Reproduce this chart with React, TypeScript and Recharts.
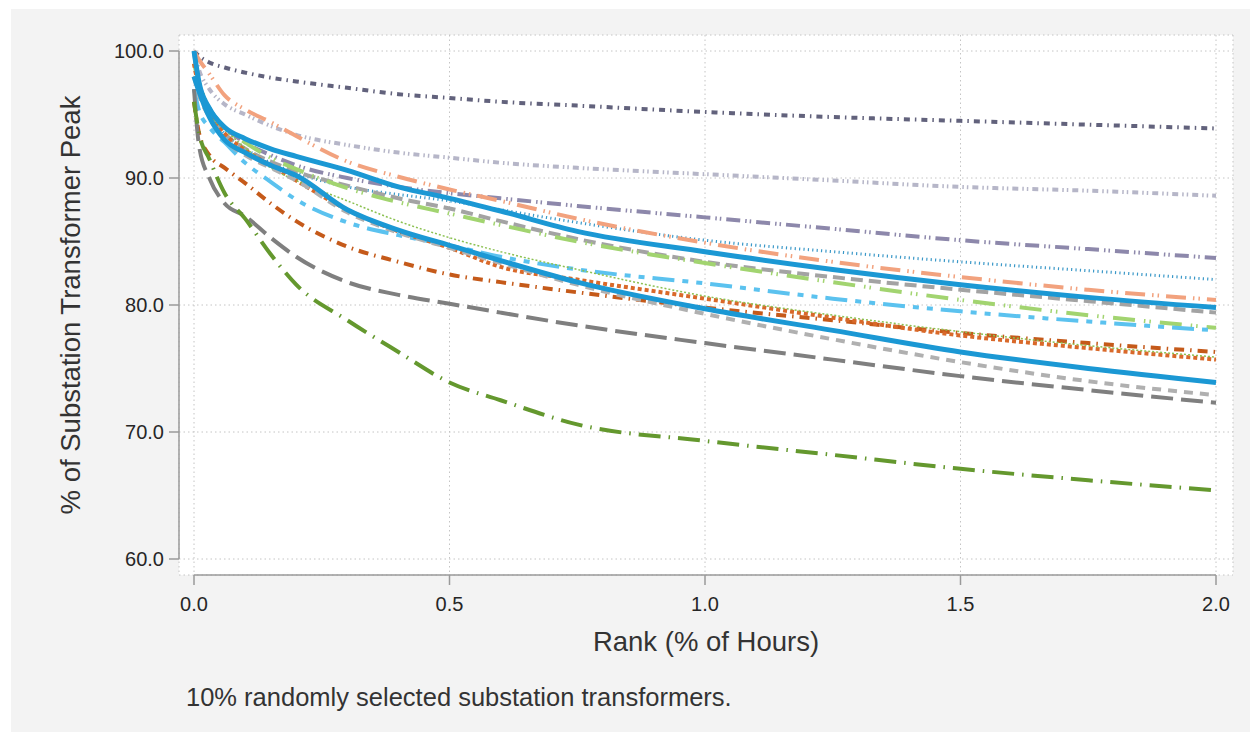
import { LineChart, Line, XAxis, YAxis, CartesianGrid } from "recharts";

// rank, % of hours
const rank = [0, 0.01, 0.03, 0.06, 0.1, 0.15, 0.2, 0.3, 0.4, 0.5, 0.6, 0.75, 1.0, 1.25, 1.5, 1.75, 2.0];

// % of substation transformer peak, one array per transformer
const slate = [100, 99.6, 99.1, 98.7, 98.3, 97.9, 97.6, 97.1, 96.6, 96.3, 96.0, 95.7, 95.2, 94.8, 94.5, 94.2, 93.9];
const lavender = [100, 98.5, 97.0, 95.8, 95.0, 94.1, 93.4, 92.6, 92.0, 91.6, 91.2, 90.8, 90.3, 89.8, 89.3, 89.0, 88.6];
const purple = [100, 97.5, 95.5, 94.0, 92.8, 91.8, 91.0, 90.0, 89.3, 88.8, 88.4, 87.8, 86.9, 86.0, 85.1, 84.4, 83.7];
const thinBlue = [100, 97.0, 95.0, 93.5, 92.3, 91.2, 90.4, 89.3, 88.7, 88.2, 87.5, 86.5, 85.1, 84.2, 83.4, 82.7, 82.0];
const salmon = [100, 99.3, 98.2, 96.5, 95.4, 94.4, 93.3, 91.3, 90.1, 89.1, 88.2, 86.8, 84.9, 83.4, 82.2, 81.2, 80.4];
const blueUpper = [100, 97.5, 95.5, 94.0, 93.1, 92.3, 91.7, 90.6, 89.3, 88.4, 87.4, 85.8, 84.2, 82.8, 81.6, 80.6, 79.8];
const grayUpper = [100, 97.0, 95.0, 93.5, 92.3, 91.3, 90.5, 89.4, 88.4, 87.6, 86.6, 85.2, 83.4, 82.2, 81.2, 80.3, 79.4];
const lightGreen = [99, 97.5, 95.5, 94.0, 92.8, 91.6, 90.7, 89.2, 88.1, 87.2, 86.3, 85.0, 83.3, 81.8, 80.4, 79.2, 78.2];
const lightBlue = [97, 95.3, 94.0, 92.8, 91.2, 89.7, 88.3, 86.5, 85.5, 84.7, 83.8, 82.8, 81.7, 80.5, 79.5, 78.7, 78.0];
const brown = [96, 93.5, 91.8, 90.8, 89.6, 88.0, 86.6, 84.6, 83.4, 82.4, 81.8, 81.0, 79.8, 78.8, 77.8, 77.0, 76.3];
const orangeDot = [99, 97.0, 95.2, 93.5, 92.2, 91.0, 89.8, 87.5, 85.8, 84.5, 83.0, 82.0, 80.5, 79.0, 77.6, 76.6, 75.7];
const greenThin = [98, 96.5, 95.0, 93.8, 92.4, 90.8, 89.8, 88.2, 86.6, 85.3, 84.2, 82.8, 80.7, 79.2, 77.9, 76.8, 75.9];
const grayLower = [98, 96.5, 94.8, 93.0, 91.8, 90.8, 89.8, 87.3, 85.7, 84.5, 83.3, 81.6, 79.3, 77.3, 75.5, 74.0, 72.9];
const blueLower = [98, 96.8, 94.8, 93.0, 92.0, 91.0, 90.2, 87.5, 85.9, 84.7, 83.5, 81.8, 79.7, 78.0, 76.3, 75.0, 73.9];
const darkGray = [97, 92.5, 90.0, 88.0, 87.0, 85.3, 83.8, 81.8, 80.8, 80.1, 79.4, 78.4, 77.0, 75.7, 74.4, 73.3, 72.3];
const darkGreen = [96, 93.5, 91.5, 88.8, 86.8, 84.0, 81.6, 78.8, 76.3, 73.9, 72.5, 70.6, 69.3, 68.2, 67.1, 66.2, 65.4];

const xTicks = [0, 0.5, 1, 1.5, 2];
const yTicks = [60, 70, 80, 90, 100];

// drawn in this order, the two solid blue lines last
const series = [
  { key: "slate", values: slate, color: "#62627c", width: 4, dash: "6 5 1.5 5" },
  { key: "lavender", values: lavender, color: "#b6b6c8", width: 4, dash: "6 4 1.5 3 1.5 4" },
  { key: "purple", values: purple, color: "#8d88ab", width: 4, dash: "14 5 1.5 3 1.5 5" },
  { key: "thinBlue", values: thinBlue, color: "#3a98c8", width: 3, dash: "1.2 3.2" },
  { key: "salmon", values: salmon, color: "#f2a27e", width: 4, dash: "20 7 1.5 4 1.5 7" },
  { key: "grayUpper", values: grayUpper, color: "#a3a3a3", width: 4, dash: "12 6" },
  { key: "lightGreen", values: lightGreen, color: "#a2d470", width: 4, dash: "22 9 1.5 4 1.5 9" },
  { key: "lightBlue", values: lightBlue, color: "#5bc2ef", width: 4, dash: "22 8 6 8 6 8" },
  { key: "brown", values: brown, color: "#c55a1a", width: 4, dash: "10 6 1.5 6" },
  { key: "orangeDot", values: orangeDot, color: "#d9692a", width: 4, dash: "4 3" },
  { key: "greenThin", values: greenThin, color: "#8cc152", width: 1.5, dash: "2 2" },
  { key: "grayLower", values: grayLower, color: "#b0b0b0", width: 4, dash: "9 7" },
  { key: "darkGray", values: darkGray, color: "#7f7f7f", width: 4, dash: "22 8" },
  { key: "darkGreen", values: darkGreen, color: "#64982e", width: 4, dash: "22 8 1.5 8" },
  { key: "blueUpper", values: blueUpper, color: "#1b98d4", width: 5, dash: undefined },
  { key: "blueLower", values: blueLower, color: "#1b98d4", width: 5, dash: undefined },
];

const data = rank.map((r, i) => {
  const row: Record<string, number> = { rank: r };
  series.forEach((s) => {
    row[s.key] = s.values[i];
  });
  return row;
});

const font = '"Liberation Sans", Arial, sans-serif';

export default function App() {
  return (
    <div
      style={{
        position: "absolute",
        left: 0,
        top: 0,
        width: 1254,
        height: 732,
        background: "#ffffff",
        fontFamily: font,
        overflow: "hidden",
      }}
    >
      <div
        style={{
          position: "absolute",
          left: 11,
          top: 9,
          width: 1239,
          height: 723,
          background: "#f3f3f3",
        }}
      />
      <div style={{ position: "absolute", left: 0, top: 0 }}>
        <LineChart
          width={1254}
          height={732}
          data={data}
          margin={{ top: 35, right: 21, left: 0, bottom: 117 }}
        >
          <CartesianGrid
            fill="#ffffff"
            stroke="#c4c4c4"
            strokeDasharray="1.5 3"
          />
          <XAxis
            dataKey="rank"
            type="number"
            domain={[0, 2]}
            ticks={xTicks}
            padding={{ left: 15, right: 17 }}
            height={40}
            tickSize={10}
            tickMargin={12}
            tickFormatter={(v: number) => v.toFixed(1)}
            axisLine={{ stroke: "#9a9a9a", strokeWidth: 1.5, strokeDasharray: "0 15 1022 100" }}
            tickLine={{ stroke: "#9a9a9a", strokeWidth: 1.5 }}
            tick={{ fill: "#262626", fontSize: 20, fontFamily: font }}
          />
          <YAxis
            type="number"
            domain={[60, 100]}
            ticks={yTicks}
            padding={{ top: 16, bottom: 16 }}
            width={179}
            tickSize={10}
            tickMargin={5}
            tickFormatter={(v: number) => v.toFixed(1)}
            axisLine={{ stroke: "#9a9a9a", strokeWidth: 1.5, strokeDasharray: "0 16 508 100" }}
            tickLine={{ stroke: "#9a9a9a", strokeWidth: 1.5 }}
            tick={{ fill: "#262626", fontSize: 20, fontFamily: font }}
          />
          {series.map((s) => (
            <Line
              key={s.key}
              type="monotone"
              dataKey={s.key}
              stroke={s.color}
              strokeWidth={s.width}
              strokeDasharray={s.dash}
              dot={false}
              activeDot={false}
              isAnimationActive={false}
            />
          ))}
        </LineChart>
      </div>
      <div
        style={{
          position: "absolute",
          left: -229,
          top: 289,
          width: 600,
          height: 32,
          lineHeight: "32px",
          textAlign: "center",
          fontSize: 27.5,
          color: "#333333",
          transform: "rotate(-90deg)",
        }}
      >
        % of Substation Transformer Peak
      </div>
      <div
        style={{
          position: "absolute",
          left: 406,
          top: 626,
          width: 600,
          height: 32,
          lineHeight: "32px",
          textAlign: "center",
          fontSize: 27.5,
          color: "#333333",
        }}
      >
        Rank (% of Hours)
      </div>
      <div
        style={{
          position: "absolute",
          left: 186,
          top: 682,
          height: 30,
          lineHeight: "30px",
          fontSize: 25.5,
          color: "#333333",
          whiteSpace: "nowrap",
        }}
      >
        10% randomly selected substation transformers.
      </div>
    </div>
  );
}
